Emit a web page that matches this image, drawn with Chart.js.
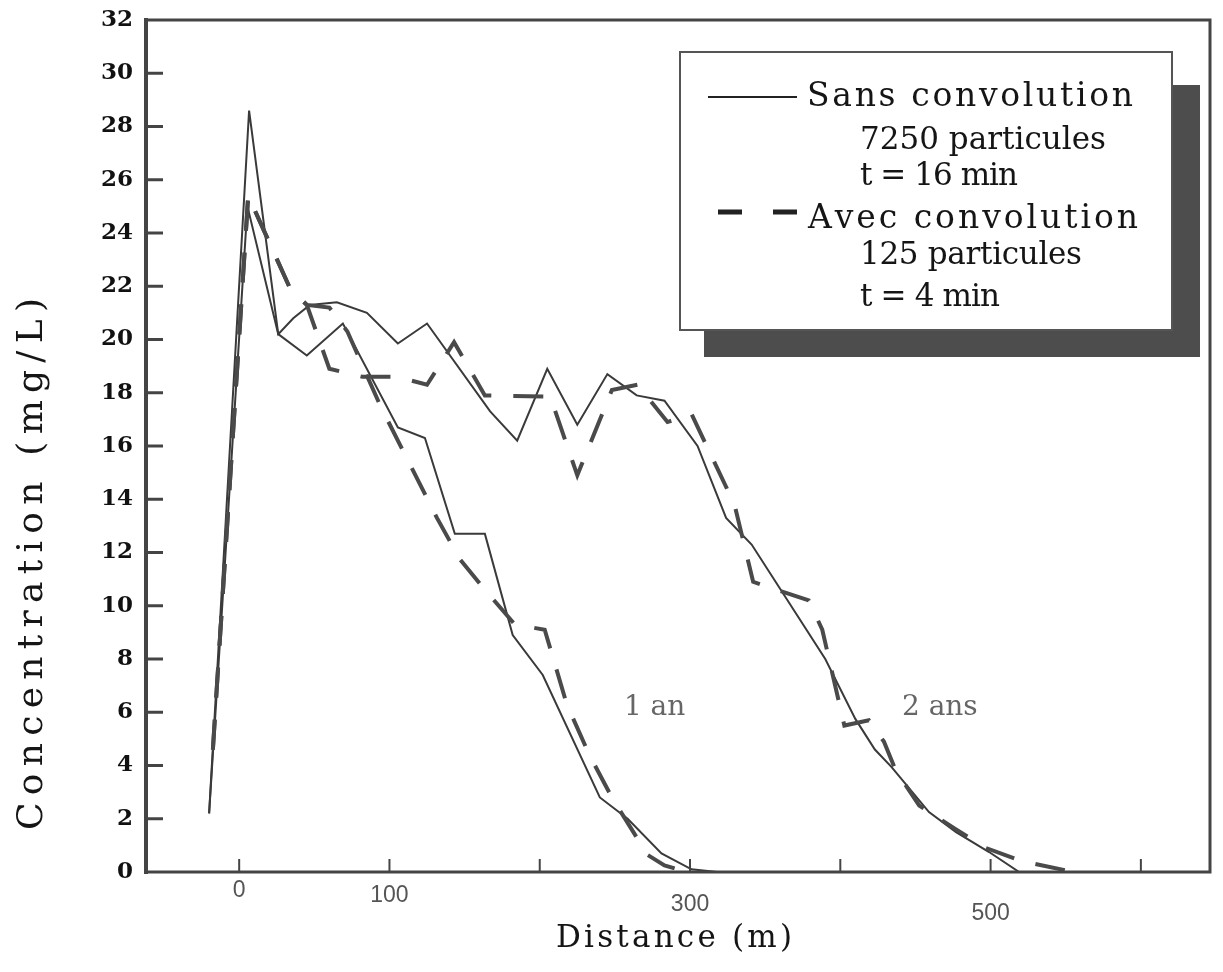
<!DOCTYPE html>
<html lang="fr">
<head>
<meta charset="UTF-8">
<title>Concentration - Distance</title>
<script src="https://cdn.jsdelivr.net/npm/chart.js"></script>
<style>
  body { margin: 0; background: #fff; }
  canvas { display: block; }
</style>
</head>
<body>
<canvas id="chart" width="1223" height="972"></canvas>
<script>
// values: distance (m) / concentration (mg/L)
const sans1anX = [-20, 6.6, 26, 45, 69, 105.6, 123.6, 143.5, 163.5, 182, 202, 240, 258.5, 281, 301, 318];
const sans1anY = [2.2, 28.6, 20.2, 19.4, 20.6, 16.7, 16.3, 12.7, 12.7, 8.9, 7.4, 2.8, 2.0, 0.7, 0.1, 0];

const sans2ansX = [-20, 5.5, 26, 36, 47, 65, 85, 105.6, 125, 167, 185, 205, 225, 245, 264.5, 283, 305, 324, 341, 390, 410, 423, 434, 459, 477, 499, 519, 552];
const sans2ansY = [2.2, 25.0, 20.2, 20.8, 21.3, 21.4, 21.0, 19.85, 20.6, 17.3, 16.2, 18.9, 16.8, 18.7, 17.9, 17.7, 16.0, 13.3, 12.3, 8.0, 5.75, 4.6, 3.95, 2.25, 1.5, 0.75, 0, 0];

const avec1anX = [-17.5, 6, 34, 45, 60, 72, 94, 131.6, 146.8, 163.5, 183.4, 203.3, 218, 233, 248.5, 271.8, 283, 298];
const avec1anY = [4.6, 25.4, 21.9, 21.3, 21.2, 20.3, 17.5, 13.3, 11.75, 10.6, 9.3, 9.1, 6.3, 4.4, 2.75, 0.64, 0.25, 0];

const avec2ansX = [-17.5, 6, 34, 45, 60, 82, 105, 125, 143, 163.5, 207, 225, 248, 265, 285, 301, 329.6, 342, 379, 388, 402.7, 419, 429, 437, 452.5, 477, 497, 521, 555.5];
const avec2ansY = [4.6, 25.4, 21.9, 21.3, 18.9, 18.6, 18.6, 18.3, 19.9, 17.9, 17.85, 14.9, 18.1, 18.3, 16.9, 17.2, 13.8, 10.9, 10.2, 9.1, 5.5, 5.7, 4.9, 3.8, 2.5, 1.6, 0.9, 0.4, 0];

const xLabelled = [0, 100, 300, 500];   // only these carry a number on the axis
const xTickMarks = [0, 100, 200, 300, 400, 500, 600];

const legendLines = [
    { text: 'Sans convolution', size: 33, x: 807, y: 106, w: 326 },
    { text: '7250 particules', size: 31, x: 860, y: 149, w: 246 },
    { text: 't = 16 min', size: 31, x: 860, y: 185, w: 158 },
    { text: 'Avec convolution', size: 33, x: 808, y: 228, w: 330 },
    { text: '125 particules', size: 31, x: 860, y: 264, w: 222 },
    { text: 't = 4 min', size: 31, x: 860, y: 306, w: 140 }
];

const curveLabels = [
    { text: '1 an', x: 256, y: 5.9 },
    { text: '2 ans', x: 441, y: 5.9 }
];

const SERIF = '"DejaVu Serif"';

function points(xs, ys) {
    return xs.map((x, i) => ({ x: x, y: ys[i] }));
}

// draws text char by char so it fills the given width (letter spaced look of the scan)
function spaced(ctx, text, x, y, width) {
    const chars = [...text];
    const total = chars.reduce((s, c) => s + ctx.measureText(c).width, 0);
    const gap = chars.length > 1 ? (width - total) / (chars.length - 1) : 0;
    let cx = x;
    chars.forEach(c => {
        ctx.fillText(c, cx, y);
        cx += ctx.measureText(c).width + gap;
    });
}

const framePlugin = {
    id: 'frame',
    afterDatasetsDraw(chart) {
        const { ctx, chartArea: a, scales } = chart;
        ctx.save();
        ctx.strokeStyle = '#444';
        ctx.lineCap = 'square';
        ctx.lineWidth = 3;
        ctx.beginPath();
        ctx.moveTo(a.left, a.top); ctx.lineTo(a.right, a.top); ctx.lineTo(a.right, a.bottom); ctx.lineTo(a.left, a.bottom);
        ctx.stroke();
        ctx.lineWidth = 4;
        ctx.beginPath();
        ctx.moveTo(a.left, a.top); ctx.lineTo(a.left, a.bottom);
        ctx.stroke();

        // ticks point inwards in the original
        ctx.lineCap = 'butt';
        ctx.lineWidth = 3;
        for (let v = 2; v < 32; v += 2) {
            const y = scales.y.getPixelForValue(v);
            ctx.beginPath(); ctx.moveTo(a.left, y); ctx.lineTo(a.left + 17, y); ctx.stroke();
        }
        ctx.lineWidth = 2;
        xTickMarks.forEach(v => {
            const x = scales.x.getPixelForValue(v);
            ctx.beginPath(); ctx.moveTo(x, a.bottom); ctx.lineTo(x, a.bottom - 13); ctx.stroke();
        });

        // x tick numbers (grey sans in the scan, slightly skewed page)
        ctx.fillStyle = '#555';
        ctx.font = '23px "Liberation Sans"';
        ctx.textAlign = 'center';
        ctx.textBaseline = 'middle';
        xLabelled.forEach(v => {
            const x = scales.x.getPixelForValue(v);
            ctx.fillText(String(v), x, 891 + (x - 238) * 0.03);
        });
        ctx.restore();
    }
};

const textPlugin = {
    id: 'texts',
    afterDraw(chart) {
        const { ctx, scales } = chart;
        ctx.save();
        // legend with drop shadow
        ctx.fillStyle = '#4d4d4d';
        ctx.fillRect(704, 85, 496, 272);
        ctx.fillStyle = '#fff';
        ctx.fillRect(680, 52, 492, 278);
        ctx.strokeStyle = '#555';
        ctx.lineWidth = 2;
        ctx.strokeRect(680, 52, 492, 278);

        ctx.strokeStyle = '#222';
        ctx.lineWidth = 2;
        ctx.beginPath(); ctx.moveTo(708, 97); ctx.lineTo(797, 97); ctx.stroke();
        ctx.lineWidth = 5;
        ctx.beginPath(); ctx.moveTo(718, 212); ctx.lineTo(742, 212); ctx.moveTo(773, 212); ctx.lineTo(797, 212); ctx.stroke();

        ctx.fillStyle = '#151515';
        ctx.textBaseline = 'alphabetic';
        ctx.textAlign = 'left';
        legendLines.forEach(l => {
            ctx.font = l.size + 'px ' + SERIF;
            spaced(ctx, l.text, l.x, l.y, l.w);
        });

        // curve labels
        ctx.fillStyle = '#666';
        ctx.font = '28px ' + SERIF;
        curveLabels.forEach(l => {
            ctx.fillText(l.text, scales.x.getPixelForValue(l.x), scales.y.getPixelForValue(l.y));
        });

        // axis titles
        ctx.fillStyle = '#151515';
        ctx.font = '31px ' + SERIF;
        spaced(ctx, 'Distance (m)', 556, 947, 236);

        ctx.font = '36px ' + SERIF;
        ctx.translate(42, 830);
        ctx.rotate(-Math.PI / 2);
        spaced(ctx, 'Concentration (mg/L)', 0, 0, 532);
        ctx.restore();
    }
};

const solid = { borderColor: '#3a3a3a', borderWidth: 2, pointRadius: 0, fill: false, tension: 0 };
const dashed = { borderColor: '#4a4a4a', borderWidth: 4, borderDash: [30, 22], pointRadius: 0, fill: false, tension: 0 };

new Chart(document.getElementById('chart'), {
    type: 'line',
    data: {
        datasets: [
            Object.assign({ label: 'Avec convolution - 1 an', data: points(avec1anX, avec1anY) }, dashed),
            Object.assign({ label: 'Avec convolution - 2 ans', data: points(avec2ansX, avec2ansY) }, dashed),
            Object.assign({ label: 'Sans convolution - 1 an', data: points(sans1anX, sans1anY) }, solid),
            Object.assign({ label: 'Sans convolution - 2 ans', data: points(sans2ansX, sans2ansY) }, solid)
        ]
    },
    options: {
        responsive: false,
        animation: false,
        layout: { padding: { top: 20, right: 13, left: 0, bottom: 0 } },
        plugins: {
            legend: { display: false },
            tooltip: { enabled: false }
        },
        scales: {
            x: {
                type: 'linear',
                min: -62,
                max: 646,
                afterFit: s => { s.height = 100; s.paddingLeft = 0; s.paddingRight = 0; },
                grid: { display: false, drawTicks: false },
                border: { display: false },
                ticks: { display: false, stepSize: 100 }
            },
            y: {
                min: 0,
                max: 32,
                afterFit: s => { s.width = 146; s.paddingTop = 0; s.paddingBottom = 0; },
                grid: { display: false, drawTicks: false },
                border: { display: false },
                ticks: {
                    stepSize: 2,
                    padding: 13,
                    color: '#111',
                    font: { family: SERIF, size: 23, weight: 'bold' }
                }
            }
        }
    },
    plugins: [framePlugin, textPlugin]
});
</script>
</body>
</html>
